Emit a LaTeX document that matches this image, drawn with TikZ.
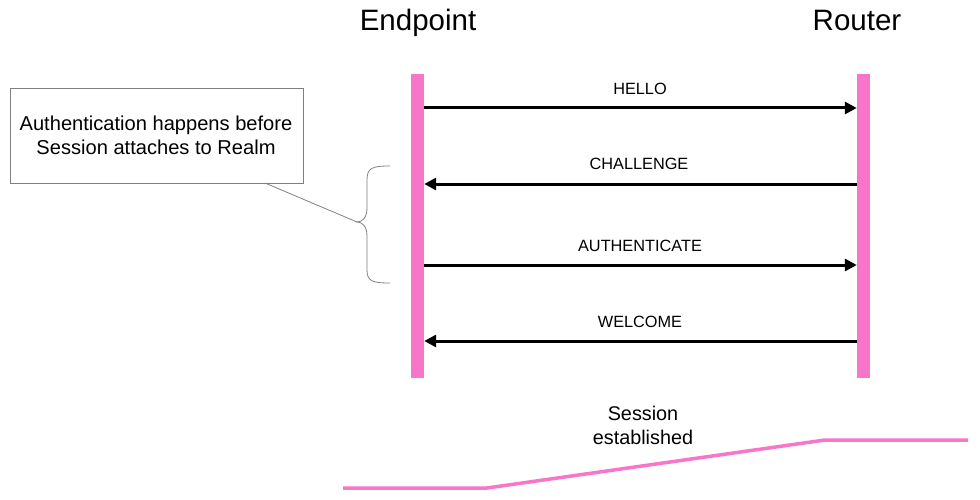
\documentclass[tikz,border=0pt]{standalone}
\usepackage{fontspec}
\setmainfont{Liberation Sans}
\usetikzlibrary{arrows.meta}
\definecolor{barpink}{RGB}{248,118,201}
\definecolor{bracegray}{RGB}{128,128,128}
\tikzset{
  lifeline/.style={fill=barpink, draw=none, minimum width=13pt, minimum height=304pt, inner sep=0pt},
  msg/.style={line width=3pt, -{Triangle[length=12pt,width=12pt]}},
  msglabel/.style={font=\fontsize{16.3}{19}\selectfont, anchor=base, inner sep=0pt},
  title/.style={font=\fontsize{29.5}{34}\selectfont, anchor=base, inner sep=0pt},
  notebox/.style={draw=bracegray, line width=0.8pt, minimum width=293pt, minimum height=95pt, inner sep=0pt},
  notetext/.style={font=\fontsize{20.1}{23.5}\selectfont, align=center, inner sep=0pt},
  sesstext/.style={font=\fontsize{19.8}{24}\selectfont, align=center, inner sep=0pt},
  grayline/.style={draw=bracegray, line width=0.8pt},
  session/.style={draw=barpink, line width=3.5pt, line join=round}
}
\begin{document}
\begin{tikzpicture}[x=1pt,y=-1pt]
\useasboundingbox (0,0) rectangle (980,500);
% titles
\node[title] (tep) at (418,31) {Endpoint};
\node[title] (trt) at (857,31) {Router};
% lifelines
\node[lifeline] (ep) at (417.5,226) {};
\node[lifeline] (rt) at (863.5,226) {};
% messages
\draw[msg] (ep.east |- 0,108) -- (rt.west |- 0,108);
\node[msglabel] (l1) at (640,95) {HELLO};
\draw[msg] (rt.west |- 0,184) -- (ep.east |- 0,184);
\node[msglabel] (l2) at (639,170) {CHALLENGE};
\draw[msg] (ep.east |- 0,265) -- (rt.west |- 0,265);
\node[msglabel] (l3) at (640,251) {AUTHENTICATE};
\draw[msg] (rt.west |- 0,341) -- (ep.east |- 0,341);
\node[msglabel] (l4) at (640,327) {WELCOME};
% note
\node[notebox] (note) at (156.5,135.5) {};
\node[notetext] (ntext) at (156,135.5) {Authentication happens before\\Session attaches to Realm};
\coordinate (tip) at (357,222);
\coordinate (leader) at (265,183);
\draw[grayline] (leader) -- (tip);
\draw[grayline] (390,166) .. controls (372,166) and (367,168) .. (367,180) -- (367,208)
  .. controls (367,218) and (362,222) .. (tip)
  .. controls (362,222) and (367,226) .. (367,236) -- (367,270)
  .. controls (367,281) and (372,283) .. (390,283);
% session
\node[sesstext] (stext) at (643,425) {Session\\established};
\coordinate (s1) at (343,488);
\coordinate (s2) at (487,488);
\coordinate (s3) at (825,440);
\coordinate (s4) at (968,440);
\draw[session] (s1) -- (s2) -- (s3) -- (s4);
\end{tikzpicture}
\end{document}
